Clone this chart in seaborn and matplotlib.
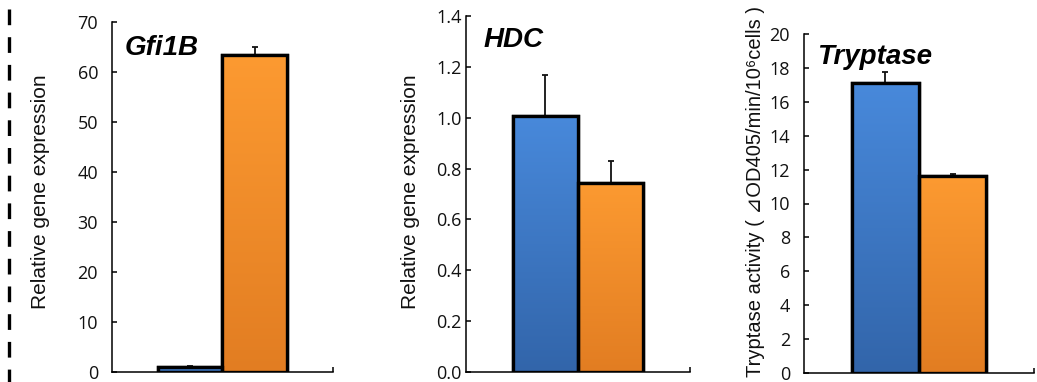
import numpy as np
import pandas as pd
import matplotlib
matplotlib.use("Agg")
import matplotlib.pyplot as plt
from matplotlib.colors import LinearSegmentedColormap
from matplotlib.patches import Rectangle
from matplotlib.lines import Line2D
import seaborn as sns

# ---------------- data ----------------
groups = ["Control", "Treated"]
genes = ["Gfi1B", "HDC", "Tryptase"]
gfi1b_values = [1.0, 63.4]
gfi1b_errors = [0.25, 1.6]
hdc_values = [1.008, 0.744]
hdc_errors = [0.16, 0.086]
tryptase_values = [17.1, 11.6]
tryptase_errors = [0.68, 0.12]
ylabels = ["Relative gene expression", "Relative gene expression",
           "Tryptase activity ( \u22bfOD405/min/10\u2076cells )"]
ylims = [(0, 70), (0, 1.4), (0, 20)]
yticks = [np.arange(0, 71, 10), np.round(np.arange(0, 1.41, 0.2), 1), np.arange(0, 21, 2)]
ytick_labels = [[str(v) for v in yticks[0]],
                ["%.1f" % v for v in yticks[1]],
                [str(v) for v in yticks[2]]]

values = [gfi1b_values, hdc_values, tryptase_values]
errors = [gfi1b_errors, hdc_errors, tryptase_errors]

bar_colors = {"Control": "#3d7ccb", "Treated": "#f48f2a"}
grad_top = {"Control": "#4889db", "Treated": "#fc9a31"}
grad_bot = {"Control": "#3265aa", "Treated": "#e27d22"}

sns.set_theme(style="white")
plt.rcParams["font.family"] = ["Liberation Sans", "DejaVu Sans"]

fig = plt.figure(figsize=(10.37, 3.82), dpi=100)

# axes rectangles (figure fractions)
rects = [
    [112 / 1037, 10 / 382, 221 / 1037, 350 / 382],
    [466 / 1037, 10 / 382, 224 / 1037, 356 / 382],
    [804 / 1037, 9 / 382, 230 / 1037, 339 / 382],
]
tick_pads = [10, 3, 10]
label_x = [-0.281, -0.205, -0.170]
label_y = [0.514, 0.506, 0.535]
label_sizes = [15, 15, 14.5]
title_pos = [(0.059, 0.906), (0.076, 0.913), (0.057, 0.912)]

for i in range(3):
    ax = fig.add_axes(rects[i])
    df = pd.DataFrame({"group": groups, "value": values[i]})
    sns.barplot(data=df, x="group", y="value", hue="group", order=groups,
                hue_order=groups, palette=bar_colors, width=1.0, dodge=False,
                edgecolor="black", linewidth=2.4, legend=False, ax=ax, zorder=2)
    xs = np.arange(len(groups))
    ax.errorbar(xs, values[i], yerr=[np.zeros(len(groups)), errors[i]], fmt="none",
                ecolor="#111111", elinewidth=1.3, capsize=2.5, capthick=1.3, zorder=1)

    # gradient fills clipped to bars
    for patch, g in zip(ax.patches, groups):
        x0, y0 = patch.get_x(), patch.get_y()
        w, h = patch.get_width(), patch.get_height()
        cmap = LinearSegmentedColormap.from_list("g", [grad_bot[g], grad_top[g]])
        grad = np.linspace(0, 1, 256).reshape(-1, 1)
        im = ax.imshow(grad, cmap=cmap, aspect="auto", origin="lower",
                       extent=[x0, x0 + w, y0, y0 + h], zorder=2.1)
        im.set_clip_path(patch)
        ax.add_patch(Rectangle((x0, y0), w, h, fill=False, edgecolor="black",
                               linewidth=2.4, zorder=2.2))

    ax.set_xlim(-1.21, 2.21)
    ax.set_ylim(*ylims[i])
    ax.set_yticks(yticks[i])
    ax.set_yticklabels(ytick_labels[i], fontfamily="Open Sans", fontsize=13)
    ax.set_xticks([2.21])
    ax.set_xticklabels([""])
    ax.tick_params(axis="y", direction="in", length=3.6, width=1.1, color="black",
                   pad=tick_pads[i], left=True, labelcolor="#111111")
    ax.tick_params(axis="x", direction="in", length=3.6, width=1.1, color="black",
                   bottom=True)
    for s in ["top", "right"]:
        ax.spines[s].set_visible(False)
    for s in ["left", "bottom"]:
        ax.spines[s].set_color("black")
        ax.spines[s].set_linewidth(1.1)
    ax.set_xlabel("")
    ax.set_ylabel(ylabels[i], fontsize=label_sizes[i], color="#111111")
    ax.yaxis.set_label_coords(label_x[i], label_y[i])
    ax.text(title_pos[i][0], title_pos[i][1], genes[i], transform=ax.transAxes,
            fontsize=20, fontweight="bold", fontstyle="italic", color="black",
            ha="left", va="baseline", zorder=5)
    ax.set_facecolor("white")

# dashed separator on the left edge
fig.add_artist(Line2D([8.7 / 1037, 8.7 / 1037], [1.0 - 9 / 382, 0.0],
                      transform=fig.transFigure, color="black", linewidth=2.4,
                      dashes=(15.7 * 0.72 / 2.4, 12 * 0.72 / 2.4)))

fig.savefig("out.png", dpi=100, facecolor="white")
